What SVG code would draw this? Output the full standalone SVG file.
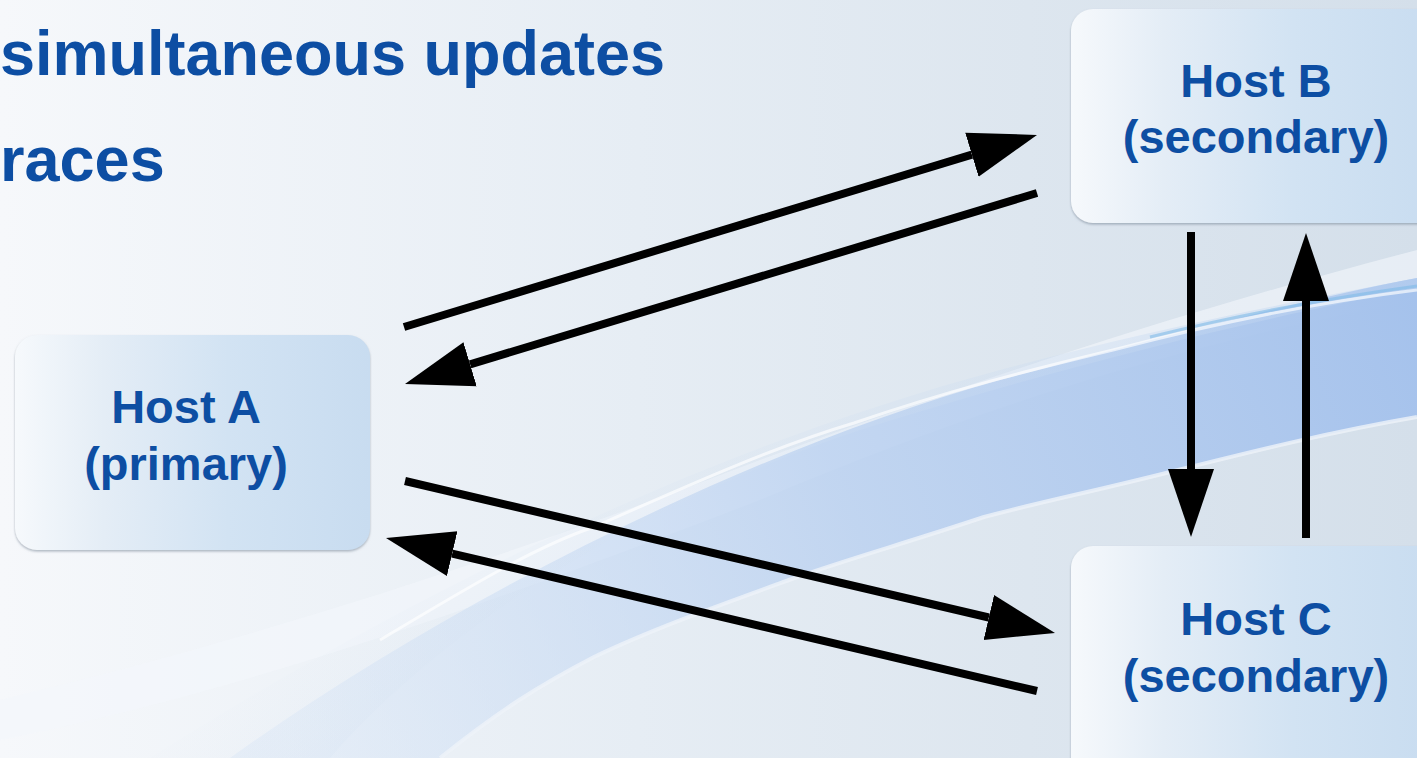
<svg xmlns="http://www.w3.org/2000/svg" width="1417" height="758" viewBox="0 0 1417 758">
  <style>
    .title { font-family: "Liberation Sans", Arial, sans-serif; font-weight: bold; font-size: 63px; fill: #0d4ea3; }
    .label { font-family: "Liberation Sans", Arial, sans-serif; font-weight: bold; font-size: 47px; fill: #0d4ea3; text-anchor: middle; }
    .box { fill: url(#boxGrad); filter: url(#shadow); }
    .conn { stroke: #000; stroke-width: 8; fill: none; marker-end: url(#head); }
  </style>
  <defs>
    <linearGradient id="bgGrad" x1="0" y1="0" x2="1417" y2="0" gradientUnits="userSpaceOnUse">
      <stop offset="0" stop-color="#f6f8fb"/>
      <stop offset="0.45" stop-color="#e6edf4"/>
      <stop offset="1" stop-color="#d4dfea"/>
    </linearGradient>
    <linearGradient id="bandGrad" x1="300" y1="758" x2="1417" y2="300" gradientUnits="userSpaceOnUse">
      <stop offset="0" stop-color="#cfe0f6" stop-opacity="0.3"/>
      <stop offset="0.5" stop-color="#b9d0f0" stop-opacity="0.8"/>
      <stop offset="1" stop-color="#a5c2ec" stop-opacity="1"/>
    </linearGradient>
    <linearGradient id="upperGrad" x1="700" y1="300" x2="900" y2="560" gradientUnits="userSpaceOnUse">
      <stop offset="0" stop-color="#dde7f1" stop-opacity="0"/>
      <stop offset="1" stop-color="#c3d7f1" stop-opacity="0.7"/>
    </linearGradient>
    <linearGradient id="boxGrad" x1="0" y1="0" x2="1" y2="0">
      <stop offset="0" stop-color="#f6f9fc"/>
      <stop offset="0.25" stop-color="#e4edf6"/>
      <stop offset="0.6" stop-color="#d2e3f3"/>
      <stop offset="1" stop-color="#c8dcf0"/>
    </linearGradient>
    <filter id="shadow" x="-5%" y="-5%" width="110%" height="115%">
      <feDropShadow dx="0" dy="1.5" stdDeviation="1.2" flood-color="#6f7f90" flood-opacity="0.55"/>
    </filter>
    <marker id="head" markerUnits="userSpaceOnUse" markerWidth="70" markerHeight="48" refX="0" refY="24" orient="auto" viewBox="0 0 70 48">
      <path d="M0,1 L68,24 L0,47 Z" fill="#000"/>
    </marker>
  </defs>

  <!-- background -->
  <rect x="0" y="0" width="1417" height="758" fill="url(#bgGrad)"/>
  <path d="M0,700 C 250,640 500,560 760,460 C 950,390 1150,320 1417,250 L1417,300 C 1150,350 950,420 760,500 C 500,600 250,690 0,740 Z" fill="#f4f7fb" opacity="0.6"/>
  <path d="M230,758 C 450,600 750,450 1000,380 C 1150,340 1300,300 1417,278 L1417,417 C 1330,432 1250,452 1178,470 C 1100,490 1040,502 984,517 C 900,545 850,558 789,580 C 720,605 650,630 594,657 C 540,685 500,710 440,758 Z" fill="url(#bandGrad)"/>
  <path d="M150,758 C 400,600 700,450 1000,370 C 1150,330 1300,300 1417,278 L1417,288 C 1250,320 1050,370 860,430 C 650,500 450,620 330,758 Z" fill="url(#upperGrad)" opacity="0.6"/>
  <path d="M380,640 C 480,580 540,545 594,527 C 700,480 780,445 854,423 C 950,390 1030,370 1113,350 C 1220,322 1320,302 1417,290" fill="none" stroke="#ffffff" stroke-width="3" opacity="0.65"/>
  <path d="M1150,337 C 1250,312 1330,298 1417,286" fill="none" stroke="#7fbbe8" stroke-width="3" opacity="0.6"/>
  <path d="M440,758 C 500,710 540,685 594,657 C 650,630 720,605 789,580 C 850,558 900,545 984,517 C 1040,502 1100,490 1178,470 C 1250,452 1330,432 1417,417" fill="none" stroke="#eef3f9" stroke-width="4" opacity="0.8"/>

  <!-- title text -->
  <text class="title" x="0" y="75">simultaneous updates</text>
  <text class="title" x="0" y="181">races</text>

  <!-- nodes -->
  <g id="hostA">
    <rect class="box" x="15" y="335" width="355" height="215" rx="22" ry="22"/>
    <text class="label" x="186" y="423">Host A</text>
    <text class="label" x="186" y="480">(primary)</text>
  </g>
  <g id="hostB">
    <rect class="box" x="1071" y="9" width="370" height="214" rx="22" ry="22"/>
    <text class="label" x="1256" y="97">Host B</text>
    <text class="label" x="1256" y="153">(secondary)</text>
  </g>
  <g id="hostC">
    <rect class="box" x="1071" y="546" width="370" height="240" rx="22" ry="22"/>
    <text class="label" x="1256" y="635">Host C</text>
    <text class="label" x="1256" y="692">(secondary)</text>
  </g>

  <!-- connectors -->
  <g id="connectors">
    <line class="conn" x1="404" y1="327" x2="971.9" y2="154.7"/>
    <line class="conn" x1="1037" y1="193" x2="470.1" y2="364.3"/>
    <line class="conn" x1="405" y1="481" x2="988.8" y2="617.5"/>
    <line class="conn" x1="1037" y1="691" x2="452.2" y2="553.6"/>
    <line class="conn" x1="1191" y1="232" x2="1191" y2="469"/>
    <line class="conn" x1="1306" y1="538" x2="1306" y2="301"/>
  </g>
</svg>
